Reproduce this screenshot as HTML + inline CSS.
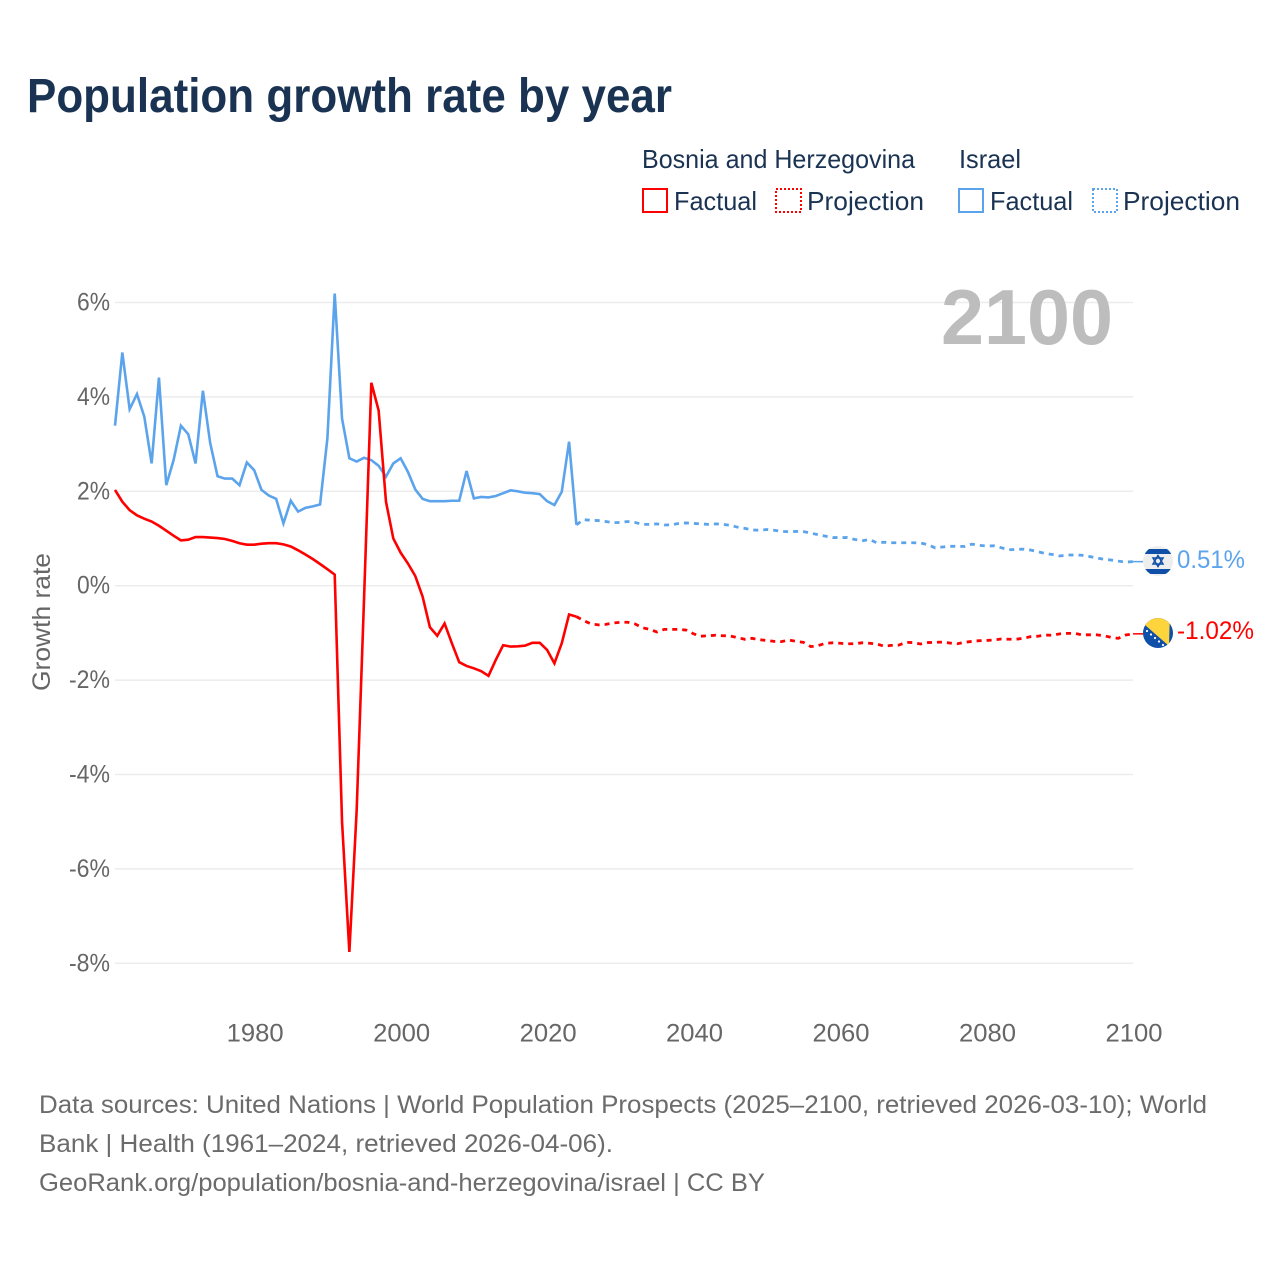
<!DOCTYPE html>
<html lang="en">
<head>
<meta charset="utf-8">
<title>Population growth rate by year</title>
<style>
html,body{margin:0;padding:0;background:#fff;}
svg{display:block;font-family:"Liberation Sans",sans-serif;}
</style>
</head>
<body>
<svg id="chart" xmlns="http://www.w3.org/2000/svg" width="1280" height="1280" viewBox="0 0 1280 1280">
  <defs>
    <clipPath id="clip-israel"><circle cx="1158" cy="561" r="15"/></clipPath>
    <clipPath id="clip-bosnia"><circle cx="1158" cy="633" r="15"/></clipPath>
  </defs>
  <rect width="1280" height="1280" fill="#ffffff"/>
  <text x="27" y="112" font-size="48" font-weight="700" fill="#1a3353" textLength="645" lengthAdjust="spacingAndGlyphs">Population growth rate by year</text>

  <g font-size="26" fill="#1a3353">
    <text x="642" y="168" textLength="273" lengthAdjust="spacingAndGlyphs">Bosnia and Herzegovina</text>
    <text x="959" y="168" textLength="62" lengthAdjust="spacingAndGlyphs">Israel</text>
    <rect x="643" y="189" width="24" height="23" fill="none" stroke="#ff0000" stroke-width="2"/>
    <text x="674" y="210" textLength="83" lengthAdjust="spacingAndGlyphs">Factual</text>
    <rect x="776" y="189" width="25" height="23" fill="none" stroke="#ff0000" stroke-width="2" stroke-dasharray="2 2"/>
    <text x="807" y="210" textLength="117" lengthAdjust="spacingAndGlyphs">Projection</text>
    <rect x="959" y="189" width="24" height="23" fill="none" stroke="#5ba4ec" stroke-width="2"/>
    <text x="990" y="210" textLength="83" lengthAdjust="spacingAndGlyphs">Factual</text>
    <rect x="1093" y="189" width="24" height="23" fill="none" stroke="#5ba4ec" stroke-width="2" stroke-dasharray="2 2"/>
    <text x="1123" y="210" textLength="117" lengthAdjust="spacingAndGlyphs">Projection</text>
  </g>

  <g id="grid"></g>
  <text x="941" y="344" font-size="78" font-weight="700" fill="#bdbdbd" textLength="172" lengthAdjust="spacingAndGlyphs">2100</text>
  <g id="yticks" font-size="25" fill="#666666"></g>
  <g id="xticks" font-size="25" fill="#666666"></g>
  <text x="0" y="0" transform="translate(50 691) rotate(-90)" font-size="25" fill="#666666" textLength="138" lengthAdjust="spacingAndGlyphs">Growth rate</text>
  <g id="series"></g>

  <g id="flag-israel" clip-path="url(#clip-israel)">
    <rect x="1143" y="546" width="30" height="30" fill="#eeeeee"/>
    <rect x="1143" y="549" width="30" height="5" fill="#0f4fa8"/>
    <rect x="1143" y="569" width="30" height="5" fill="#0f4fa8"/>
    <polygon points="1158,555.5 1163,564 1153,564" fill="none" stroke="#0f4fa8" stroke-width="1.5"/>
    <polygon points="1158,566.5 1163,558 1153,558" fill="none" stroke="#0f4fa8" stroke-width="1.5"/>
  </g>
  <g id="flag-bosnia" clip-path="url(#clip-bosnia)">
    <rect x="1143" y="618" width="30" height="30" fill="#0f4fa8"/>
    <polygon points="1145,625 1145,610 1170,610 1169,646" fill="#fed43c"/>
    <g fill="#ffffff">
      <circle cx="1147" cy="631" r="1.1"/><circle cx="1151" cy="634.5" r="1.1"/><circle cx="1155" cy="638" r="1.1"/><circle cx="1159" cy="641.5" r="1.1"/><circle cx="1163" cy="645" r="1.1"/>
    </g>
  </g>
  <text id="value-israel" x="1177" y="568" font-size="25" fill="#5ba4ec" textLength="68" lengthAdjust="spacingAndGlyphs">0.51%</text>
  <text id="value-bosnia" x="1177" y="639" font-size="25" fill="#ff0000" textLength="77" lengthAdjust="spacingAndGlyphs">-1.02%</text>

  <g font-size="25" fill="#6b6b6b">
    <text x="39" y="1113" textLength="1168" lengthAdjust="spacingAndGlyphs">Data sources: United Nations | World Population Prospects (2025–2100, retrieved 2026-03-10); World</text>
    <text x="39" y="1152" textLength="574" lengthAdjust="spacingAndGlyphs">Bank | Health (1961–2024, retrieved 2026-04-06).</text>
    <text x="39" y="1191" textLength="726" lengthAdjust="spacingAndGlyphs">GeoRank.org/population/bosnia-and-herzegovina/israel | CC BY</text>
  </g>
</svg>
<script>
const yTicks = [6, 4, 2, 0, -2, -4, -6, -8];
const xTicks = [1980, 2000, 2020, 2040, 2060, 2080, 2100];
const startYear = 1961;
const lastFactualYear = 2024;
const bosnia = [
  2.03,1.78,1.60,1.49,1.42,1.36,1.27,1.165,1.06,0.96,
  0.975,1.03,1.03,1.02,1.01,0.99,0.95,0.90,0.87,0.87,
  0.89,0.90,0.90,0.875,0.83,0.75,0.66,0.565,0.46,0.35,
  0.235,-5.0,-7.76,-4.75,-0.3,4.30,3.71,1.78,1.00,0.70,
  0.47,0.205,-0.23,-0.88,-1.06,-0.80,-1.22,-1.62,-1.70,-1.75,
  -1.81,-1.91,-1.57,-1.26,-1.29,-1.285,-1.27,-1.21,-1.21,-1.36,
  -1.645,-1.22,-0.61,-0.655,
  -0.74,-0.81,-0.83,-0.82,-0.79,-0.775,-0.775,-0.81,-0.89,-0.925,
  -0.98,-0.925,-0.925,-0.925,-0.94,-1.02,-1.07,-1.06,-1.05,-1.06,
  -1.065,-1.10,-1.135,-1.115,-1.145,-1.16,-1.18,-1.185,-1.15,-1.18,
  -1.20,-1.29,-1.27,-1.22,-1.21,-1.22,-1.23,-1.23,-1.21,-1.22,
  -1.235,-1.28,-1.265,-1.26,-1.20,-1.205,-1.235,-1.205,-1.20,-1.195,
  -1.215,-1.23,-1.20,-1.18,-1.165,-1.16,-1.15,-1.13,-1.135,-1.135,
  -1.115,-1.08,-1.07,-1.045,-1.05,-1.02,-1.01,-1.01,-1.04,-1.04,
  -1.04,-1.06,-1.095,-1.115,-1.045,-1.02
];
const israel = [
  3.39,4.94,3.74,4.06,3.58,2.59,4.41,2.13,2.66,3.39,
  3.21,2.59,4.13,3.02,2.32,2.27,2.27,2.13,2.61,2.45,
  2.03,1.91,1.84,1.32,1.80,1.57,1.65,1.68,1.72,3.12,
  6.19,3.54,2.70,2.63,2.71,2.66,2.54,2.31,2.59,2.70,
  2.41,2.04,1.84,1.79,1.79,1.79,1.80,1.80,2.43,1.85,
  1.88,1.87,1.90,1.96,2.02,2.00,1.97,1.96,1.94,1.79,
  1.71,1.99,3.05,1.29,
  1.40,1.385,1.38,1.36,1.335,1.34,1.36,1.34,1.30,1.30,
  1.31,1.286,1.29,1.32,1.33,1.32,1.31,1.30,1.31,1.30,
  1.28,1.24,1.215,1.18,1.175,1.19,1.175,1.15,1.145,1.15,
  1.145,1.115,1.08,1.05,1.02,1.02,1.02,0.98,0.95,0.98,
  0.91,0.92,0.91,0.91,0.91,0.91,0.905,0.87,0.80,0.82,
  0.835,0.835,0.83,0.88,0.855,0.84,0.845,0.805,0.76,0.77,
  0.775,0.755,0.72,0.685,0.66,0.63,0.65,0.65,0.645,0.62,
  0.59,0.56,0.545,0.52,0.50,0.51
];

const NS = 'http://www.w3.org/2000/svg';
function xScale(year) { return 115 + (year - 1961) * (1018 / 139); }
function yScale(v) { return 585.7 - v * 47.2; }
function pts(values, from, to) {
  const out = [];
  values.forEach(function (v, i) {
    const yr = startYear + i;
    if (yr >= from && yr <= to) out.push(xScale(yr).toFixed(2) + ',' + yScale(v).toFixed(2));
  });
  return out.join(' ');
}

const grid = document.getElementById('grid');
const yGroup = document.getElementById('yticks');
const xGroup = document.getElementById('xticks');
const seriesGroup = document.getElementById('series');

yTicks.forEach(function (t) {
  const line = document.createElementNS(NS, 'line');
  
  
  line.setAttribute('x1', xScale(1961));
  line.setAttribute('x2', xScale(2100));
  line.setAttribute('y1', yScale(t));
  line.setAttribute('y2', yScale(t));
  line.setAttribute('stroke', '#ececec');
  line.setAttribute('stroke-width', '1.5');
  grid.appendChild(line);

  const label = document.createElementNS(NS, 'text');
  
  
  const w = t < 0 ? 41 : 33;
  label.setAttribute('x', 110 - w);
  label.setAttribute('y', yScale(t) + 8);
  label.setAttribute('textLength', w);
  label.setAttribute('lengthAdjust', 'spacingAndGlyphs');
  label.textContent = t + '%';
  yGroup.appendChild(label);
});

xTicks.forEach(function (t) {
  const label = document.createElementNS(NS, 'text');
  
  
  label.setAttribute('x', xScale(t) - 27.5);
  label.setAttribute('y', 1041.5);
  label.setAttribute('textLength', 57);
  label.setAttribute('lengthAdjust', 'spacingAndGlyphs');
  label.textContent = t;
  xGroup.appendChild(label);
});

function drawSeries(values, color, key) {
  const solid = document.createElementNS(NS, 'polyline');
  
  
  solid.setAttribute('points', pts(values, startYear, lastFactualYear));
  solid.setAttribute('fill', 'none');
  solid.setAttribute('stroke', color);
  solid.setAttribute('stroke-width', '2.6');
  solid.setAttribute('stroke-linejoin', 'miter');
  seriesGroup.appendChild(solid);

  const dashed = document.createElementNS(NS, 'polyline');
  
  
  dashed.setAttribute('points', pts(values, lastFactualYear, 2100));
  dashed.setAttribute('fill', 'none');
  dashed.setAttribute('stroke', color);
  dashed.setAttribute('stroke-width', '2.8');
  dashed.setAttribute('stroke-dasharray', '5 5');
  seriesGroup.appendChild(dashed);

  const last = values[values.length - 1];
  const tail = document.createElementNS(NS, 'line');
  
  
  tail.setAttribute('x1', xScale(2100));
  tail.setAttribute('x2', xScale(2100) + 10);
  tail.setAttribute('y1', yScale(last));
  tail.setAttribute('y2', yScale(last));
  tail.setAttribute('stroke', color);
  tail.setAttribute('stroke-width', '1.5');
  seriesGroup.appendChild(tail);
}
drawSeries(israel, '#5ba4ec', 'israel');
drawSeries(bosnia, '#ff0000', 'bosnia');

document.getElementById('value-israel').textContent = israel[israel.length - 1].toFixed(2) + '%';
document.getElementById('value-bosnia').textContent = bosnia[bosnia.length - 1].toFixed(2) + '%';
</script>
</body>
</html>
